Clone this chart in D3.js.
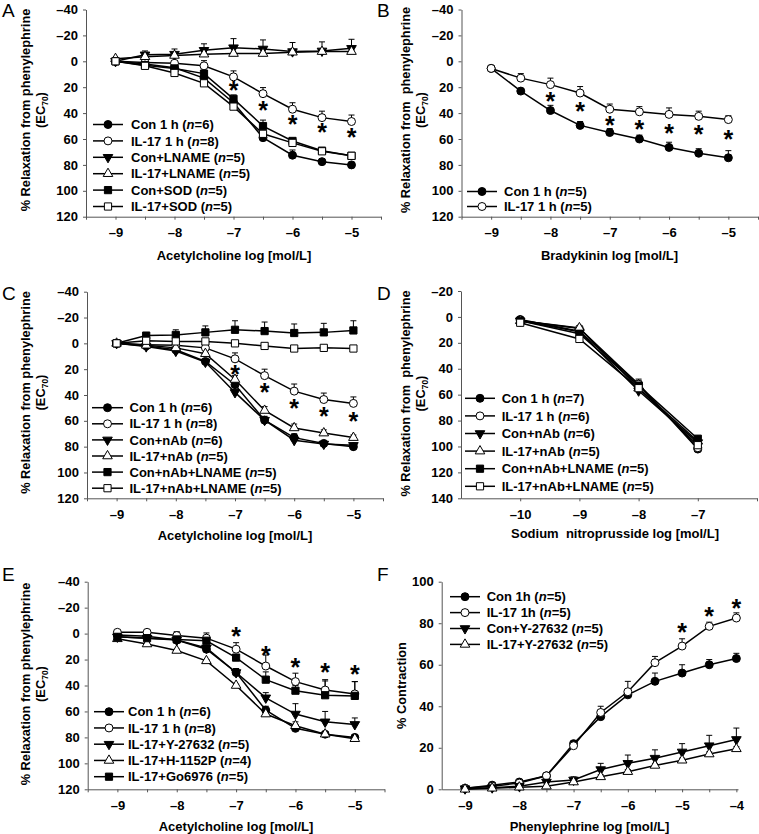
<!DOCTYPE html>
<html>
<head>
<meta charset="utf-8">
<script src="https://cdn.jsdelivr.net/npm/d3@7"></script>
<style>
  body { margin: 0; background: #fff; }
  text { font-family: "Liberation Sans", Arial, sans-serif; }
</style>
</head>
<body>
<svg id="fig" width="759" height="834"></svg>
<script>
// doses (log mol/L)
const achDose = [-9, -8.5, -8, -7.5, -7, -6.5, -6, -5.5, -5];
const bkDose = [-9, -8.5, -8, -7.5, -7, -6.5, -6, -5.5, -5];
const snpDose = [-10, -9, -8, -7];
const pheDose = [-9, -8.5, -8, -7.5, -7, -6.5, -6, -5.5, -5, -4.5, -4];

// panel A
const aLabels = ["Con 1 h", "IL-17 1 h", "Con+LNAME", "IL-17+LNAME", "Con+SOD", "IL-17+SOD"];
const aN = [6, 8, 5, 5, 5, 5];
const aCon = [0, 2, 5, 13, 32, 59, 72.5, 77.5, 80];
const aIL17 = [0, 1, 1.5, 3.5, 12, 25, 37, 43.5, 46.5];
const aConLname = [0, -5, -5.5, -8.5, -10.5, -9.5, -7.5, -8, -10];
const aIL17Lname = [-2, -3.5, -4.5, -5.5, -6, -6, -7, -7.5, -7.5];
const aConSod = [0, 3, 5.5, 9.5, 29, 50, 61.5, 69, 73];
const aIL17Sod = [0, 3.5, 9, 17, 35, 56, 63, 69.5, 73];
const aConErr = [0, 1, 1, 2, 3, 3, 4, 1.5, 2];
const aIL17Err = [0, 1, 2, 4, 4.6, 4.7, 5, 5, 5];
const aConLnameErr = [0, 3, 4, 5, 7, 7, 7, 7, 7];
const aIL17LnameErr = [1, 1, 1, 1, 1, 1, 1, 1, 1];
const aConSodErr = [0, 1, 1, 2, 3, 4.6, 2, 2, 2];
const aIL17SodErr = [0, 1, 1, 1, 2, 2, 2, 2, 2];
const aStarX = [-7, -6.5, -6, -5.5, -5];
const aStarY = [19, 34, 45, 51, 55];

// panel B
const bLabels = ["Con 1 h", "IL-17 1 h"];
const bN = [5, 5];
const bCon = [5.5, 23, 38, 49.5, 55, 60, 66.5, 71, 74.5];
const bIL17 = [5.5, 13, 18, 24.5, 37, 39, 41, 42.5, 45];
const bConErr = [1, 2, 4, 3, 3, 3, 4, 3.5, 5.5];
const bIL17Err = [1, 3.5, 5, 5, 4, 4, 5, 4, 3];
const bStarX = [-8, -7.5, -7, -6.5, -6, -5.5, -5];
const bStarY = [27.4, 34.6, 45.4, 49, 52, 53, 56.4];

// panel C
const cLabels = ["Con 1 h", "IL-17 1 h", "Con+nAb", "IL-17+nAb", "Con+nAb+LNAME", "IL-17+nAb+LNAME"];
const cN = [6, 8, 6, 5, 5, 5];
const cCon = [0, 2, 5, 14, 32, 59.5, 73, 77.5, 80];
const cIL17 = [0, 1, 1.5, 3.5, 12, 25, 37, 43.5, 46.5];
const cConNab = [0, 2.5, 6, 14.5, 38, 59.5, 75, 78, 79];
const cIL17Nab = [0, 1.5, 3.5, 8, 28, 52, 65.5, 69.5, 73];
const cConNabLname = [0, -6, -6.5, -8.5, -10.5, -9.5, -8, -8.5, -10];
const cIL17NabLname = [0, -2, -1.5, -1.5, 0, 2, 4, 3.5, 4];
const cConErr = [0, 1, 1, 2, 3, 3, 3, 1.5, 2];
const cIL17Err = [0, 1, 2, 4, 4.6, 5, 5.5, 5, 5];
const cConNabErr = [0, 1, 1, 1, 2, 2, 2, 1, 1];
const cIL17NabErr = [0, 1, 1, 1, 3, 3, 3, 2.5, 2];
const cConNabLnameErr = [0, 2, 4, 5, 7, 7, 7, 7, 7.5];
const cIL17NabLnameErr = [0, 1, 1, 1, 1, 1, 1, 1, 1];
const cStarX = [-7, -6.5, -6, -5.5, -5];
const cStarY = [20.5, 34.4, 46.7, 53, 57];

// panel D
const dLabels = ["Con 1 h", "IL-17 1 h", "Con+nAb", "IL-17+nAb", "Con+nAb+LNAME", "IL-17+nAb+LNAME"];
const dN = [7, 6, 6, 5, 5, 5];
const dCon = [2, 11, 52, 102];
const dIL17 = [3, 9, 52, 101];
const dConNab = [3, 11.5, 57, 97];
const dIL17Nab = [3, 8.5, 55, 96];
const dConNabLname = [3, 13, 53, 94];
const dIL17NabLname = [4.5, 17, 55, 99];
const dConErr = [1, 1, 3, 1];
const dIL17Err = [1, 1.5, 2, 1];
const dConNabErr = [1, 1, 3, 1];
const dIL17NabErr = [1, 1, 2, 1];
const dConNabLnameErr = [1, 1, 5, 1];
const dIL17NabLnameErr = [1, 1, 2, 1];

// panel E
const eLabels = ["Con 1 h", "IL-17 1 h", "IL-17+Y-27632", "IL-17+H-1152P", "IL-17+Go6976"];
const eN = [6, 8, 5, 4, 5];
const eCon = [1, 2, 5, 12, 30, 59, 73, 77.5, 80];
const eIL17 = [-1, -1, 1.5, 3.5, 12, 25, 37, 43.5, 46.5];
const eIL17Y = [2.5, 3.5, 5, 11, 30, 49.5, 62, 68, 70];
const eIL17H = [4, 8, 13, 21, 40, 62, 71, 77.5, 81];
const eIL17Go = [2.5, 3.5, 4.5, 5.5, 18.5, 35.5, 44, 47.5, 48];
const eConErr = [0, 1, 1, 2, 3, 3, 3, 1.5, 2];
const eIL17Err = [1, 1, 3, 4, 5, 8.5, 6.5, 8, 9.5];
const eIL17YErr = [1, 1, 1, 2, 3, 4, 8, 8, 5];
const eIL17HErr = [0, 1, 1, 1, 1, 2, 3, 2, 1];
const eIL17GoErr = [1, 1, 2, 4, 2, 6, 4, 11, 11];
const eStarX = [-7, -6.5, -6, -5.5, -5];
const eStarY = [-2, 12.7, 22, 26, 28];

// panel F
const fLabels = ["Con 1h", "IL-17 1h", "Con+Y-27632", "IL-17+Y-27632"];
const fN = [5, 5, 5, 5];
const fCon = [0.5, 2, 3.5, 6.5, 22, 35, 45.5, 52, 56, 60, 63];
const fIL17 = [0.5, 1.5, 3, 6.5, 21, 37, 47, 61, 69, 78.5, 82.5];
const fConY = [0.3, 0.8, 1.5, 3.5, 4.5, 9.5, 12.5, 15, 18, 21, 24];
const fIL17Y = [0, 0.5, 1, 1.5, 3.5, 6, 8.5, 11.5, 14, 17, 19.5];
const fConErr = [0.5, 0.5, 0.5, 0.5, 1, 1, 1, 4, 4, 2.5, 2.5];
const fIL17Err = [0.5, 0.5, 0.5, 0.5, 2, 3, 5, 3, 3.5, 2, 2.5];
const fConYErr = [0.5, 0.5, 0.5, 1, 1.5, 3, 4, 4, 4, 5, 5.5];
const fIL17YErr = [0.5, 0.5, 0.5, 0.5, 1, 1, 1, 1, 1, 1, 1];
const fStarX = [-5, -4.5, -4];
const fStarY = [77.8, 85.5, 89.5];

const relaxTitle = "% Relaxation from phenylephrine";

const mk = (labels, ns, vals, errs, shapes) =>
  labels.map((l, i) => ({ label: l, n: ns[i], vals: vals[i], err: errs[i], shape: shapes[i] }));

const six = ["cf", "co", "tdf", "tuo", "sf", "so"];

const panels = [
  { key: "A", dose: achDose, letter: [2, 17],
    series: mk(aLabels, aN, [aCon, aIL17, aConLname, aIL17Lname, aConSod, aIL17Sod],
      [aConErr, aIL17Err, aConLnameErr, aIL17LnameErr, aConSodErr, aIL17SodErr], six),
    xDomain: [-9.5, -4.5], xRange: [86, 381], yDomain: [-40, 120], yRange: [9.5, 216.7],
    xTicks: d3.range(-9.5, -4.49, 0.5), yTicks: d3.range(-40, 121, 20),
    xTitle: "Acetylcholine log [mol/L]", xTitleY: 259.5, xTitleX: 234,
    yTitle: relaxTitle, yTitleX: 29.5, yTitleY: 110, sub: true,
    legend: { x0: 93, x1: 123, tx: 131, y0: 124.5, dy: 16.4 },
    starX: aStarX, starY: aStarY },
  { key: "B", dose: bkDose, letter: [377, 17],
    series: mk(bLabels, bN, [bCon, bIL17], [bConErr, bIL17Err], ["cf", "co"]),
    xDomain: [-9.5, -4.5], xRange: [461.5, 758], yDomain: [-40, 120], yRange: [9.5, 216.7],
    xTicks: d3.range(-9.5, -4.49, 0.5), yTicks: d3.range(-40, 121, 20),
    xTitle: "Bradykinin log [mol/L]", xTitleY: 259.5, xTitleX: 609.5,
    yTitle: "% Relaxation from  phenylephrine", yTitleX: 409.5, yTitleY: 110, sub: true,
    legend: { x0: 467, x1: 497, tx: 504, y0: 191.5, dy: 15 },
    starX: bStarX, starY: bStarY },
  { key: "C", dose: achDose, letter: [2, 300],
    series: mk(cLabels, cN, [cCon, cIL17, cConNab, cIL17Nab, cConNabLname, cIL17NabLname],
      [cConErr, cIL17Err, cConNabErr, cIL17NabErr, cConNabLnameErr, cIL17NabLnameErr], six),
    xDomain: [-9.5, -4.5], xRange: [87, 383], yDomain: [-40, 120], yRange: [291.7, 498.3],
    xTicks: d3.range(-9.5, -4.49, 0.5), yTicks: d3.range(-40, 121, 20),
    xTitle: "Acetylcholine log [mol/L]", xTitleY: 539.5, xTitleX: 235,
    yTitle: relaxTitle, yTitleX: 29.5, yTitleY: 392.5, sub: true,
    legend: { x0: 92, x1: 123, tx: 129.5, y0: 407.7, dy: 16.1 },
    starX: cStarX, starY: cStarY },
  { key: "D", dose: snpDose, letter: [377, 300],
    series: mk(dLabels, dN, [dCon, dIL17, dConNab, dIL17Nab, dConNabLname, dIL17NabLname],
      [dConErr, dIL17Err, dConNabErr, dIL17NabErr, dConNabLnameErr, dIL17NabLnameErr], six),
    xDomain: [-11, -6], xRange: [461, 757], yDomain: [-20, 140], yRange: [291, 498.3],
    xTicks: [-10, -9, -8, -7, -6], yTicks: d3.range(-20, 141, 20),
    xTitle: "Sodium  nitroprusside log [mol/L]", xTitleY: 537.5, xTitleX: 615,
    yTitle: "% Relaxation from  phenylephrine", yTitleX: 409.5, yTitleY: 393.5, sub: true,
    legend: { x0: 465, x1: 495, tx: 501.7, y0: 398.3, dy: 17.6 },
    starX: [], starY: [] },
  { key: "E", dose: achDose, letter: [2, 581],
    series: mk(eLabels, eN, [eCon, eIL17, eIL17Y, eIL17H, eIL17Go],
      [eConErr, eIL17Err, eIL17YErr, eIL17HErr, eIL17GoErr], ["cf", "co", "tdf", "tuo", "sf"]),
    xDomain: [-9.5, -4.5], xRange: [87.7, 384.5], yDomain: [-40, 120], yRange: [581.7, 789.3],
    xTicks: d3.range(-9.5, -4.49, 0.5), yTicks: d3.range(-40, 121, 20),
    xTitle: "Acetylcholine log [mol/L]", xTitleY: 831, xTitleX: 236,
    yTitle: relaxTitle, yTitleX: 29.5, yTitleY: 684, sub: true,
    legend: { x0: 94, x1: 124, tx: 128, y0: 711.7, dy: 16.25 },
    starX: eStarX, starY: eStarY },
  { key: "F", dose: pheDose, letter: [377, 581],
    series: mk(fLabels, fN, [fCon, fIL17, fConY, fIL17Y],
      [fConErr, fIL17Err, fConYErr, fIL17YErr], ["cf", "co", "tdf", "tuo"]),
    xDomain: [-9.43, -3.97], xRange: [441.7, 738], yDomain: [0, 100], yRange: [789.3, 581.7],
    xTicks: d3.range(-9, -3.99, 0.5), yTicks: d3.range(0, 101, 20),
    xTitle: "Phenylephrine log [mol/L]", xTitleY: 831, xTitleX: 589.5,
    yTitle: "% Contraction", yTitleX: 406, yTitleY: 685.5, sub: false,
    legend: { x0: 450, x1: 480, tx: 486.7, y0: 596.7, dy: 15.9 },
    starX: fStarX, starY: fStarY }
];

const svg = d3.select("#fig");
svg.append("rect").attr("width", 759).attr("height", 834).attr("fill", "#fff");

const fmt = d => (d < 0 ? "\u2013" : "") + Math.abs(d);

function drawMarker(sel, code, cx, cy) {
  let type = d3.symbolCircle, size = 50;
  if (code[0] === "s") { type = d3.symbolSquare; size = 52; }
  if (code[0] === "t") { type = d3.symbolTriangle; size = 40; }
  const rot = code.startsWith("td") ? 180 : 0;
  sel.append("path")
    .attr("d", d3.symbol(type, size)())
    .attr("transform", `translate(${cx},${cy}) rotate(${rot})`)
    .attr("fill", code.endsWith("f") ? "#000" : "#fff")
    .attr("stroke", "#000")
    .attr("stroke-width", 1);
}

panels.forEach(p => {
  const g = svg.append("g");
  const x = d3.scaleLinear().domain(p.xDomain).range(p.xRange);
  const y = d3.scaleLinear().domain(p.yDomain).range(p.yRange);
  const bottom = Math.max(...p.yRange);

  const xAxis = g.append("g")
    .attr("transform", `translate(0,${bottom})`)
    .call(d3.axisBottom(x).tickValues(p.xTicks).tickSize(3).tickSizeOuter(0).tickPadding(8)
      .tickFormat(d => Number.isInteger(d) && p.dose.includes(d) ? fmt(d) : ""));
  const yAxis = g.append("g")
    .attr("transform", `translate(${p.xRange[0]},0)`)
    .call(d3.axisLeft(y).tickValues(p.yTicks).tickSize(3).tickSizeOuter(0).tickPadding(5).tickFormat(fmt));
  [xAxis, yAxis].forEach(a => {
    a.selectAll("path, line").attr("stroke", "#555");
    a.selectAll("text").attr("font-size", 13).attr("font-weight", "bold").attr("fill", "#000")
      .attr("font-family", "'Liberation Sans', Arial, sans-serif");
  });

  // axis titles
  g.append("text").attr("x", p.xTitleX).attr("y", p.xTitleY)
    .attr("text-anchor", "middle").attr("font-size", 13).attr("font-weight", "bold")
    .style("white-space", "pre").text(p.xTitle);

  g.append("text")
    .attr("transform", `translate(${p.yTitleX},${p.yTitleY}) rotate(-90)`)
    .attr("text-anchor", "middle").attr("font-size", 12.8).attr("font-weight", "bold")
    .style("white-space", "pre").text(p.yTitle);
  if (p.sub) {
    const t2 = g.append("text")
      .attr("transform", `translate(${p.yTitleX + 15},${p.yTitleY}) rotate(-90)`)
      .attr("text-anchor", "middle").attr("font-size", 12.8).attr("font-weight", "bold");
    t2.append("tspan").text("(EC");
    t2.append("tspan").attr("font-size", 8.5).attr("dy", 3).text("70");
    t2.append("tspan").attr("dy", -3).text(")");
  }

  // panel letter
  g.append("text").attr("x", p.letter[0]).attr("y", p.letter[1])
    .attr("font-size", 19).text(p.key);

  // error bars (drawn upwards)
  const eb = g.append("g").attr("stroke", "#000").attr("stroke-width", 1);
  p.series.forEach(s => {
    s.vals.forEach((v, i) => {
      const e = s.err[i];
      if (!e) return;
      const px = x(p.dose[i]);
      const py = y(v);
      const top = Math.min(y(v - e), y(v + e));
      eb.append("line").attr("x1", px).attr("x2", px).attr("y1", py).attr("y2", top);
      eb.append("line").attr("x1", px - 3).attr("x2", px + 3).attr("y1", top).attr("y2", top);
    });
  });

  // lines
  const line = d3.line().x((d, i) => x(p.dose[i])).y(d => y(d));
  p.series.forEach(s => {
    g.append("path").attr("d", line(s.vals)).attr("fill", "none")
      .attr("stroke", "#000").attr("stroke-width", 1.5);
  });

  // markers
  p.series.forEach(s => {
    s.vals.forEach((v, i) => drawMarker(g, s.shape, x(p.dose[i]), y(v)));
  });

  // significance asterisks
  p.starX.forEach((sx, i) => {
    g.append("text").attr("x", x(sx)).attr("y", y(p.starY[i]) + 13.5)
      .attr("text-anchor", "middle").attr("font-size", 25).attr("font-weight", "bold").text("*");
  });

  // legend
  const L = p.legend;
  p.series.forEach((s, i) => {
    const ly = L.y0 + i * L.dy;
    g.append("line").attr("x1", L.x0).attr("x2", L.x1).attr("y1", ly).attr("y2", ly)
      .attr("stroke", "#000").attr("stroke-width", 1.5);
    drawMarker(g, s.shape, (L.x0 + L.x1) / 2, ly);
    const t = g.append("text").attr("x", L.tx).attr("y", ly + 4.6)
      .attr("font-size", 13).attr("font-weight", "bold");
    t.append("tspan").text(s.label + " (");
    t.append("tspan").attr("font-style", "italic").text("n");
    t.append("tspan").text("=" + s.n + ")");
  });
});
</script>
</body>
</html>
